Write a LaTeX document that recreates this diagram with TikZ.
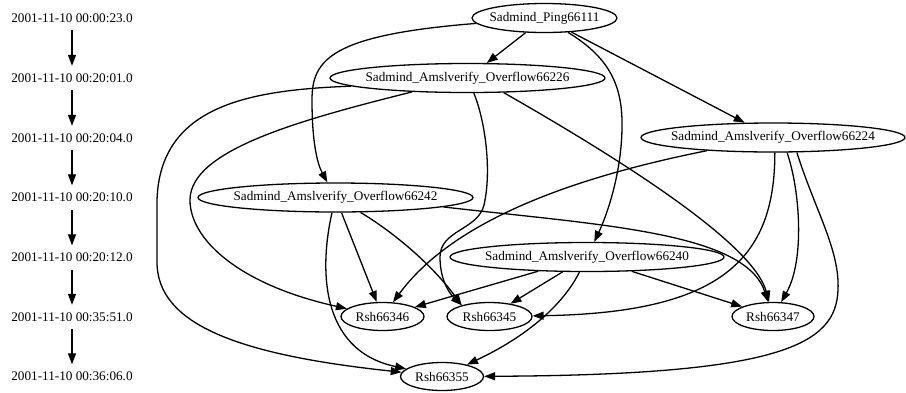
\documentclass[tikz,border=0pt]{standalone}
\usepackage{fontspec}
\setmainfont{Liberation Serif}
\usetikzlibrary{shapes.geometric,arrows.meta}
\begin{document}
\begin{tikzpicture}[x=1pt,y=-1pt,
  nd/.style={draw, ellipse, line width=1.3pt, inner xsep=-20pt, inner ysep=-10pt, minimum height=29pt,
    font=\fontsize{13.2}{15}\selectfont},
  sm/.style={nd, minimum height=28pt},
  tl/.style={inner xsep=0pt, inner ysep=7.5pt, font=\fontsize{13.2}{15}\selectfont},
  edge/.style={line width=1.3pt, -{Triangle[length=11pt,width=8pt]}}]
\useasboundingbox (0,0) rectangle (906,392);
% timeline
\node[tl] (t1) at (72,18) {2001-11-10 00:00:23.0};
\node[tl] (t2) at (72,78) {2001-11-10 00:20:01.0};
\node[tl] (t3) at (72,138) {2001-11-10 00:20:04.0};
\node[tl] (t4) at (72,197.5) {2001-11-10 00:20:10.0};
\node[tl] (t5) at (72,257.5) {2001-11-10 00:20:12.0};
\node[tl] (t6) at (72,317) {2001-11-10 00:35:51.0};
\node[tl] (t7) at (72,376.5) {2001-11-10 00:36:06.0};
\draw[edge] (t1) -- (t2);
\draw[edge] (t2) -- (t3);
\draw[edge] (t3) -- (t4);
\draw[edge] (t4) -- (t5);
\draw[edge] (t5) -- (t6);
\draw[edge] (t6) -- (t7);
% nodes
\node[nd, minimum width=145pt] (ping) at (544.5,18) {Sadmind\_Ping66111};
\node[nd, minimum width=275pt] (o226) at (467.5,78) {Sadmind\_Amslverify\_Overflow66226};
\node[nd, minimum width=264pt] (o224) at (773,137.5) {Sadmind\_Amslverify\_Overflow66224};
\node[nd, minimum width=275pt] (o242) at (335.5,197.5) {Sadmind\_Amslverify\_Overflow66242};
\node[nd, minimum width=274pt] (o240) at (587,257) {Sadmind\_Amslverify\_Overflow66240};
\node[sm, minimum width=83pt] (r346) at (382.5,316.5) {Rsh66346};
\node[sm, minimum width=85pt] (r345) at (489.5,316.5) {Rsh66345};
\node[sm, minimum width=82pt] (r347) at (773,316.5) {Rsh66347};
\node[sm, minimum width=83pt] (r355) at (442,376.5) {Rsh66355};
% edges from Ping
\draw[edge] (ping) -- (o226);
\draw[edge] (ping) -- (o224);
\draw[edge] (ping) .. controls (330,35) and (312,60) .. (312,100)
  .. controls (312,145) and (318,165) .. (o242);
\draw[edge] (ping) .. controls (605,55) and (621,80) .. (622,120)
  .. controls (623,170) and (607,215) .. (o240);
% edges from 66226
\draw[edge] (o226.184) .. controls (250,90) and (160,105) .. (157,200) -- (157,262)
  .. controls (157,325) and (240,355) .. (r355);
\draw[edge] (o226) .. controls (300,120) and (190,150) .. (190,200)
  .. controls (190,240) and (240,285) .. (r346);
\draw[edge] (o226) .. controls (485,120) and (492,170) .. (484,205)
  .. controls (478,230) and (440,230) .. (440,257)
  .. controls (440,278) and (448,292) .. (r345.158);
\draw[edge] (o226.338) .. controls (655,179) and (755,250) .. (r347);
% edges from 66224
\draw[edge] (o224) .. controls (560,180) and (450,225) .. (r346);
\draw[edge] (o224.277) .. controls (775,260) and (720,313) .. (r345);
\draw[edge] (o224.313) .. controls (800,190) and (805,260) .. (r347);
\draw[edge] (o224.328) .. controls (815,210) and (840,250) .. (838,290)
  .. controls (836,345) and (780,375) .. (r355);
% edges from 66242
\draw[edge] (o242) -- (r346);
\draw[edge] (o242) .. controls (390,230) and (430,262) .. (r345.158);
\draw[edge] (o242) .. controls (320,265) and (318,350) .. (r355);
\draw[edge] (o242.355) .. controls (600,225) and (745,232) .. (r347);
% edges from 66240
\draw[edge] (o240) -- (r346);
\draw[edge] (o240) -- (r345);
\draw[edge] (o240) .. controls (568,295) and (540,330) .. (r355);
\draw[edge] (o240) -- (r347);
\end{tikzpicture}
\end{document}
